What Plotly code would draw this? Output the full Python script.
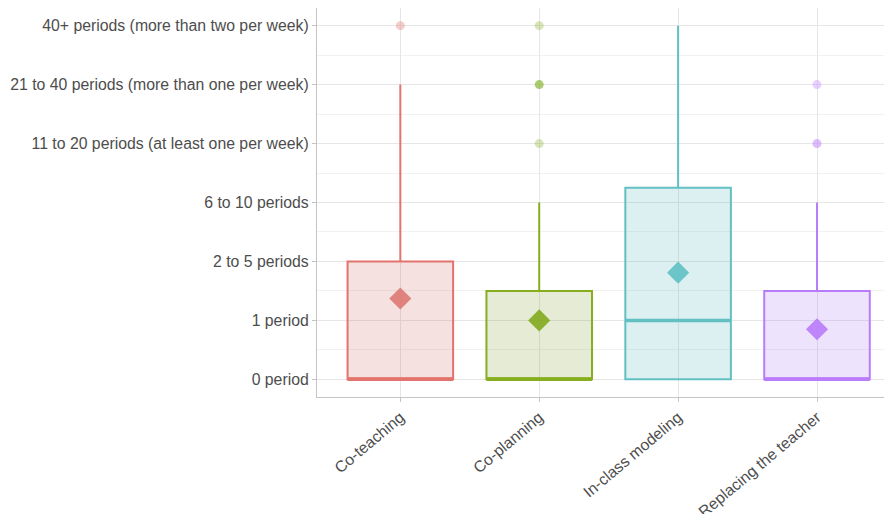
import plotly.graph_objects as go

categories = ["Co-teaching", "Co-planning", "In-class modeling", "Replacing the teacher"]
y_labels = ["0 period", "1 period", "2 to 5 periods", "6 to 10 periods",
            "11 to 20 periods (at least one per week)",
            "21 to 40 periods (more than one per week)",
            "40+ periods (more than two per week)"]
q1 = [0, 0, 0, 0]
median = [0, 0, 1, 0]
q3 = [2, 1.5, 3.25, 1.5]
lower = [0, 0, 0, 0]
upper = [5, 3, 6, 3]
means = [1.37, 1.0, 1.81, 0.85]
outlier_x = [0, 1, 1, 1, 3, 3]
outlier_y = [6, 4, 5, 6, 4, 5]
outlier_alpha = [0.35, 0.3, 0.6, 0.3, 0.5, 0.35]

line_colors = ["#E3736C", "#86AE1F", "#62C0C3", "#B97CFB"]
fill_colors = ["rgba(205,110,100,0.2)", "rgba(125,155,45,0.2)",
               "rgba(85,180,185,0.2)", "rgba(170,115,240,0.2)"]
mean_colors = ["rgba(222,120,114,0.9)", "rgba(130,170,30,0.9)",
               "rgba(95,192,195,0.9)", "rgba(185,122,250,0.9)"]
rgb = [(225, 115, 108), (124, 170, 20), (90, 190, 195), (190, 124, 255)]

BOX_W = 0.76
fig = go.Figure()
for i, c in enumerate(categories):
    fig.add_trace(go.Box(
        x=[i], q1=[q1[i]], median=[median[i]], q3=[q3[i]],
        lowerfence=[lower[i]], upperfence=[upper[i]],
        width=BOX_W, whiskerwidth=0, boxpoints=False,
        fillcolor=fill_colors[i],
        line=dict(color=line_colors[i], width=2),
        showlegend=False, hoverinfo="skip"))
    fig.add_trace(go.Scatter(
        x=[i - BOX_W / 2, i + BOX_W / 2], y=[median[i], median[i]],
        mode="lines", line=dict(color=line_colors[i], width=3.5),
        showlegend=False, hoverinfo="skip"))
    fig.add_trace(go.Scatter(
        x=[i], y=[means[i]], mode="markers",
        marker=dict(symbol="diamond", size=17, color=mean_colors[i],
                    line=dict(width=0)),
        showlegend=False, hoverinfo="skip"))

for xo, yo, a in zip(outlier_x, outlier_y, outlier_alpha):
    r, g, b = rgb[xo]
    fig.add_trace(go.Scatter(
        x=[xo], y=[yo], mode="markers",
        marker=dict(size=9, color=f"rgba({r},{g},{b},{a})", line=dict(width=0)),
        showlegend=False, hoverinfo="skip"))

fig.update_layout(
    width=884, height=514,
    margin=dict(l=309, r=0, t=0, b=125),
    plot_bgcolor="white", paper_bgcolor="white",
    font=dict(family="Liberation Sans, Arial, sans-serif", size=15.8, color="#4D4D4D"),
)
fig.update_xaxes(
    range=[-0.6, 3.54], tickvals=list(range(len(categories))), ticktext=categories,
    tickangle=-40, showgrid=True, gridcolor="#E6E6E6", gridwidth=1, automargin=False,
    zeroline=False, showline=True, linecolor="#C4C4C4", linewidth=1.2, mirror=True,
    ticks="outside", ticklen=4, tickcolor="#C4C4C4",
    tickfont=dict(size=15.8, color="#4D4D4D"))
fig.update_yaxes(
    range=[-0.3, 6.3], tickvals=list(range(len(y_labels))), ticktext=y_labels,
    showgrid=True, gridcolor="#E6E6E6", gridwidth=1, automargin=False,
    minor=dict(dtick=0.5, tick0=0.5, showgrid=True, gridcolor="#F2F2F2", gridwidth=1),
    zeroline=False, showline=True, linecolor="#C4C4C4", linewidth=1.2,
    ticks="outside", ticklen=4, tickcolor="#C4C4C4",
    tickfont=dict(size=15.8, color="#4D4D4D"))

fig.write_html("out.html")
